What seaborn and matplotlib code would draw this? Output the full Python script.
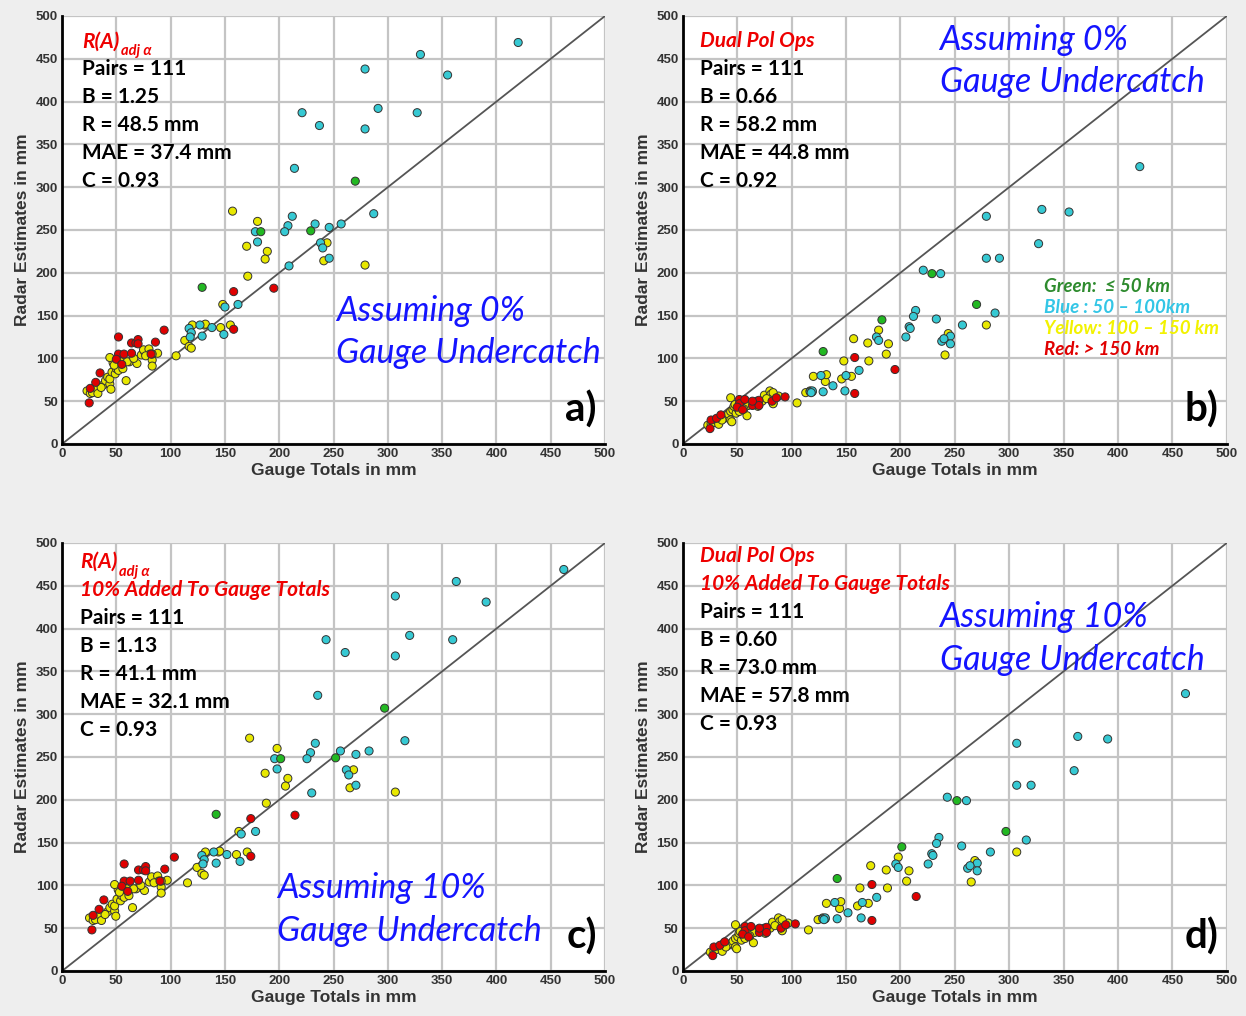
import pandas as pd
import seaborn as sns
import matplotlib.pyplot as plt

# ---- data (gauge total, R(A) radar, dual-pol radar) ----
# Blue: 50 - 100 km
blue_gauge = [420, 330, 355, 279, 279, 291, 327, 221, 237, 214, 287, 212, 233, 257, 208, 246,
              205, 178, 180, 238, 240, 246, 209, 162, 150, 117, 119, 118, 129, 127, 138, 149]
blue_ra = [469, 455, 431, 438, 368, 392, 387, 387, 372, 322, 269, 266, 257, 257, 255, 253,
           248, 248, 236, 235, 229, 217, 208, 163, 160, 135, 130, 125, 126, 139, 136, 128]
blue_dp = [324, 274, 271, 266, 217, 217, 234, 203, 199, 156, 153, 149, 146, 139, 137, 126,
           125, 125, 121, 120, 123, 117, 135, 86, 80, 61, 62, 60, 61, 80, 68, 62]

# Green: <= 50 km
green_gauge = [270, 229, 183, 129]
green_ra = [307, 249, 248, 183]
green_dp = [163, 199, 145, 108]

# Yellow: 100 - 150 km
yellow_gauge = [23, 26, 28, 32, 33, 38, 40, 42, 44, 45, 44, 46, 49, 50, 47, 44, 54, 59,
                62, 69, 73, 76, 75, 80, 81, 77, 83, 83, 88, 83, 60, 52, 48, 56, 66, 36,
                105, 113, 117, 119, 120, 131, 132, 146, 155, 148, 157, 180, 170, 189, 187,
                171, 244, 241, 279]
yellow_ra = [62, 59, 60, 65, 59, 69, 74, 78, 70, 64, 76, 84, 82, 88, 95, 101, 96, 74,
             96, 94, 104, 108, 110, 111, 105, 103, 98, 91, 106, 105, 96, 86, 92, 88, 100, 66,
             103, 121, 114, 112, 139, 139, 140, 136, 139, 163, 272, 260, 231, 225, 216,
             196, 235, 214, 209]
yellow_dp = [22, 24, 25, 27, 23, 30, 32, 35, 28, 26, 38, 40, 36, 42, 44, 54, 46, 33,
             48, 44, 50, 55, 57, 62, 58, 53, 48, 47, 56, 60, 45, 38, 46, 41, 47, 28,
             48, 60, 62, 61, 79, 73, 81, 76, 79, 97, 123, 133, 118, 117, 105,
             97, 129, 104, 139]

# Red: > 150 km
red_gauge = [25, 26, 31, 35, 52, 52, 57, 50, 55, 64, 68, 70, 70, 64, 82, 86, 94, 158, 158, 195]
red_ra = [48, 65, 72, 83, 125, 105, 105, 99, 93, 118, 118, 122, 117, 106, 105, 119, 133, 178, 134, 182]
red_dp = [18, 28, 30, 34, 52, 47, 52, 43, 40, 45, 50, 51, 45, 50, 50, 54, 55, 101, 59, 87]

ring_colors = {"yellow": "#e8e800", "red": "#e00000", "blue": "#36c9d3", "green": "#22b822"}

frames = []
for name, g, ra, dp in [("yellow", yellow_gauge, yellow_ra, yellow_dp),
                        ("red", red_gauge, red_ra, red_dp),
                        ("blue", blue_gauge, blue_ra, blue_dp),
                        ("green", green_gauge, green_ra, green_dp)]:
    frames.append(pd.DataFrame({"gauge": g, "ra": ra, "dp": dp, "ring": name}))
df = pd.concat(frames, ignore_index=True)
# panels c/d: 10% added to the gauge totals
df["gauge10"] = df["gauge"] * 1.1

panels = [
    dict(x="gauge", y="ra", head=["R(A)"], sub=True,
         stats=["Pairs = 111", "B = 1.25", "R = 48.5 mm", "MAE = 37.4 mm", "C = 0.93"],
         note=("Assuming 0%", "Gauge Undercatch"), note_xy=(0.505, 0.311, 0.213), tag="a)",
         rect=[0.0498, 0.563, 0.4358, 0.4213], top=0.941, left=0.037),
    dict(x="gauge", y="dp", head=["Dual Pol Ops"], sub=False,
         stats=["Pairs = 111", "B = 0.66", "R = 58.2 mm", "MAE = 44.8 mm", "C = 0.92"],
         note=("Assuming 0%", "Gauge Undercatch"), note_xy=(0.472, 0.944, 0.846), tag="b)",
         rect=[0.548, 0.563, 0.4366, 0.4213], top=0.941, left=0.031),
    dict(x="gauge10", y="ra", head=["R(A)", "10% Added To Gauge Totals"], sub=True,
         stats=["Pairs = 111", "B = 1.13", "R = 41.1 mm", "MAE = 32.1 mm", "C = 0.93"],
         note=("Assuming 10%", "Gauge Undercatch"), note_xy=(0.396, 0.194, 0.093), tag="c)",
         rect=[0.0498, 0.0443, 0.4358, 0.4213], top=0.956, left=0.033),
    dict(x="gauge10", y="dp", head=["Dual Pol Ops", "10% Added To Gauge Totals"], sub=False,
         stats=["Pairs = 111", "B = 0.60", "R = 73.0 mm", "MAE = 57.8 mm", "C = 0.93"],
         note=("Assuming 10%", "Gauge Undercatch"), note_xy=(0.472, 0.827, 0.727), tag="d)",
         rect=[0.548, 0.0443, 0.4366, 0.4213], top=0.970, left=0.031),
]

sns.set_theme(style="whitegrid")
plt.rcParams["font.family"] = ["Lato", "DejaVu Sans"]

fig = plt.figure(figsize=(12.46, 10.16), dpi=100, facecolor="#eeeeee")
ticks = list(range(0, 501, 50))

for p in panels:
    ax = fig.add_axes(p["rect"])
    ax.set_facecolor("white")
    ax.set_axisbelow(True)
    ax.plot([0, 500], [0, 500], color="#555555", lw=1.3, zorder=1)
    sns.scatterplot(data=df, x=p["x"], y=p["y"], hue="ring", palette=ring_colors,
                    s=34, edgecolor="#333333", linewidth=0.7, legend=False, ax=ax, zorder=3)
    ax.set_xlim(0, 500)
    ax.set_ylim(0, 500)
    ax.set_xticks(ticks)
    ax.set_yticks(ticks)
    ax.grid(True, color="#c4c4c4", lw=1.6)
    for s in ["top", "right"]:
        ax.spines[s].set_visible(False)
    for s in ["left", "bottom"]:
        ax.spines[s].set_color("black")
        ax.spines[s].set_linewidth(2)
    ax.tick_params(axis="both", direction="in", length=4, width=1.5, color="black",
                   labelsize=9.5, labelcolor="#333333", pad=3)
    for lab in ax.get_xticklabels() + ax.get_yticklabels():
        lab.set_fontweight("bold")
        lab.set_family(["Liberation Sans", "DejaVu Sans"])
    ax.set_xlabel("Gauge Totals in mm", fontsize=12.5, fontweight="bold", color="#333333",
                  family=["Liberation Sans", "DejaVu Sans"], labelpad=2)
    ax.set_ylabel("Radar Estimates in mm", fontsize=12.5, fontweight="bold", color="#333333",
                  family=["Liberation Sans", "DejaVu Sans"], labelpad=4)

    y = p["top"]
    step = 0.0655
    for i, h in enumerate(p["head"]):
        t = ax.text(p["left"], y, h, transform=ax.transAxes, color="#ee0000",
                    fontsize=15, fontstyle="italic", fontweight="bold", va="center")
        if i == 0 and p["sub"]:
            ax.annotate("adj α", xy=(1, 0.0), xycoords=t, xytext=(1, 0),
                        textcoords="offset points", color="#ee0000", fontsize=10.5,
                        fontstyle="italic", fontweight="bold", va="center", ha="left")
        y -= step
    for line in p["stats"]:
        ax.text(p["left"], y, line, transform=ax.transAxes, color="black",
                fontsize=15, fontweight="bold", va="center")
        y -= step

    nx, ny1, ny2 = p["note_xy"]
    for txt, ny in [(p["note"][0], ny1), (p["note"][1], ny2)]:
        ax.text(nx, ny, txt, transform=ax.transAxes, color="#1414ff", fontsize=24.5,
                fontstyle="italic", va="center", ha="left")
    ax.text(0.985, 0.08, p["tag"], transform=ax.transAxes, color="black", fontsize=29,
            fontweight="bold", va="center", ha="right")

    if p["tag"] == "b)":
        legend_rows = [("Green:  ≤ 50 km", "#2e8b2e", 0.367),
                       ("Blue : 50 – 100km", "#33c6e6", 0.318),
                       ("Yellow: 100 – 150 km", "#f2f200", 0.269),
                       ("Red: > 150 km", "#e00000", 0.220)]
        for txt, c, ly in legend_rows:
            ax.text(0.664, ly, txt, transform=ax.transAxes, color=c, fontsize=13.5,
                    fontstyle="italic", fontweight="bold", va="center", ha="left")

fig.savefig("out.png", dpi=100, facecolor=fig.get_facecolor())
